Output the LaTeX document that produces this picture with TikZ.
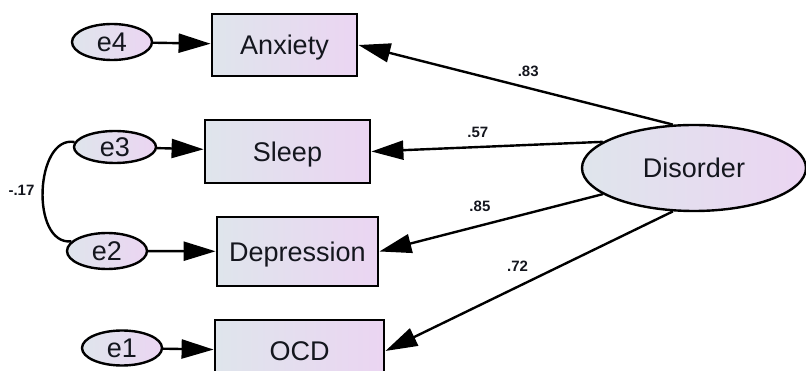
\documentclass[tikz,border=0pt]{standalone}
\usepackage{fontspec}
\setmainfont{Liberation Sans}
\usetikzlibrary{arrows.meta,shapes.geometric}
\definecolor{fillL}{HTML}{DFE5EC}
\definecolor{fillR}{HTML}{EBD5F2}
\definecolor{txt}{HTML}{14161E}
\begin{document}
\begin{tikzpicture}[x=1pt,y=-1pt,
    obs/.style={draw, rectangle, line width=2.8pt, left color=fillL, right color=fillR,
        text=txt, font=\fontsize{27}{30}\selectfont, inner sep=0pt,
        text height=19.3pt, text depth=0pt},
    err/.style={draw, ellipse, line width=2.4pt, left color=fillL, right color=fillR,
        text=txt, font=\fontsize{27}{30}\selectfont, inner sep=0pt,
        text height=19.3pt, text depth=0pt},
    reg/.style={line width=2.4pt, -{Triangle[length=32pt,width=19pt]}},
    cov/.style={line width=2.4pt},
    lbl/.style={text=txt, font=\bfseries\fontsize{15}{15}\selectfont, inner sep=0pt}]
    \useasboundingbox (0,0) rectangle (806,371);
    % observed variables
    \node[obs, minimum width=145pt, minimum height=62pt] (anx) at (284.5,45) {Anxiety};
    \node[obs, minimum width=165pt, minimum height=63pt] (slp) at (287.5,151.5) {Sleep};
    \node[obs, minimum width=161pt, minimum height=69pt] (dep) at (297.5,251.5) {Depression};
    \node[obs, minimum width=169pt, minimum height=62pt] (ocd) at (299.5,351) {OCD};
    % error terms
    \node[err, minimum width=80pt, minimum height=36pt] (e4) at (112,42) {e4};
    \node[err, minimum width=82pt, minimum height=32pt] (e3) at (115,147) {e3};
    \node[err, minimum width=80pt, minimum height=36pt] (e2) at (107,251) {e2};
    \node[err, minimum width=80pt, minimum height=35pt] (e1) at (122,348) {e1};
    % latent factor
    \node[err, minimum width=224pt, minimum height=86pt] (dis) at (694,168) {Disorder};
    % errors to indicators
    \draw[reg] (e4) -- (anx);
    \draw[reg] (e3) -- (slp);
    \draw[reg] (e2) -- (dep);
    \draw[reg] (e1) -- (ocd);
    % loadings
    \draw[reg] (dis.116) -- node[lbl, pos=0.46, above=10.5pt] (l83) {.83} (anx.east);
    \draw[reg] (dis.164) -- node[lbl, pos=0.54, above=8.5pt] (l57) {.57} (slp.east);
    \draw[reg] (dis.196) -- node[lbl, pos=0.55, above=12.5pt] (l85) {.85} (dep.east);
    \draw[reg] (dis.244) -- node[lbl, pos=0.54, above=14pt] (l72) {.72} (ocd.east);
    % covariance e3 - e2
    \draw[cov] (e3.173) .. controls (35,135) and (30,245) .. node[lbl, pos=0.5, left=7pt] (l17) {-.17} (e2.165);
\end{tikzpicture}
\end{document}
